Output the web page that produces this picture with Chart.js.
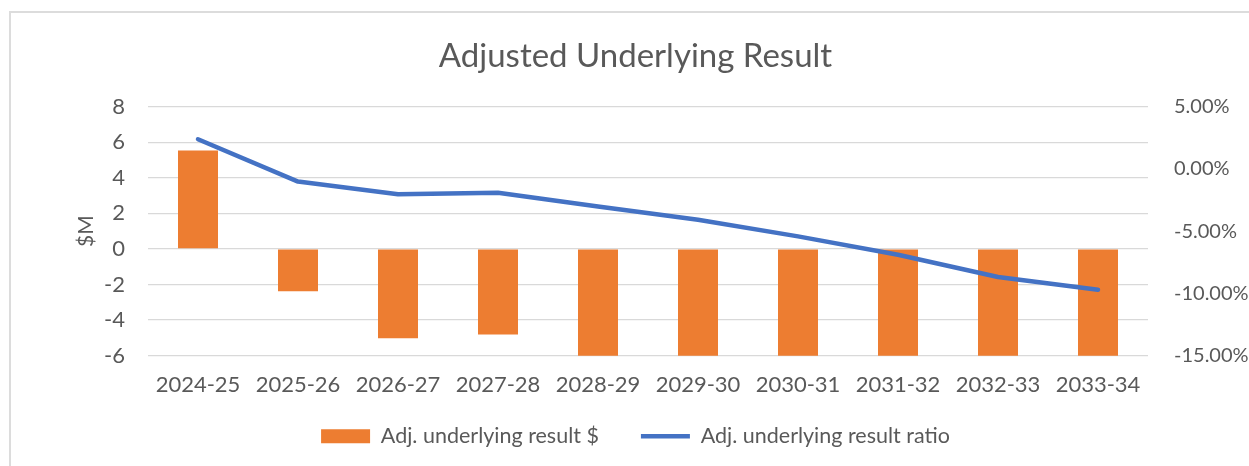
<!DOCTYPE html>
<html>
<head>
<meta charset="utf-8">
<script src="https://cdn.jsdelivr.net/npm/chart.js@4.4.1/dist/chart.umd.min.js"></script>
<style>
  html, body { margin: 0; padding: 0; background: #ffffff; overflow: hidden; }
  #frame { position: absolute; left: 9px; top: 11px; width: 1400px; height: 600px; border-left: 2px solid #DCDCDC; border-top: 2px solid #DCDCDC; }
  #wrap { position: absolute; left: 0; top: 0; width: 1249px; height: 466px; }
</style>
</head>
<body>
<div id="frame"></div>
<div id="wrap"><canvas id="c"></canvas></div>
<script>
const categories = ['2024-25', '2025-26', '2026-27', '2027-28', '2028-29', '2029-30', '2030-31', '2031-32', '2032-33', '2033-34'];
const resultM = [5.53, -2.38, -5.02, -4.81, -6.3, -6.6, -6.9, -7.2, -7.6, -8.0];
const ratioPct = [2.38, -1.02, -2.03, -1.92, -3.02, -4.09, -5.42, -6.9, -8.68, -9.7];
const leftTicks = { min: -6, max: 8, step: 2 };
const rightTicks = { min: -15, max: 5, step: 5 };

const textColor = '#595959';
const gridColor = '#D9D9D9';
Chart.defaults.font.family = 'Lato, "Open Sans", sans-serif';
Chart.defaults.color = textColor;

// let the category labels extend below the (narrow) x-axis box without being clipped
const labelRoom = {
  id: 'labelRoom',
  afterLayout(chart) {
    const x = chart.scales.x;
    x.bottom = x.top + 60;
  }
};

new Chart(document.getElementById('c'), {
  plugins: [labelRoom],
  data: {
    labels: categories,
    datasets: [
      {
        type: 'bar',
        label: 'Adj. underlying result $',
        data: resultM,
        backgroundColor: '#ED7D31',
        borderWidth: 0,
        barPercentage: 0.4,
        categoryPercentage: 1.0,
        yAxisID: 'y',
        order: 2,
        pointStyle: 'rect'
      },
      {
        type: 'line',
        label: 'Adj. underlying result ratio',
        data: ratioPct,
        borderColor: '#4472C4',
        backgroundColor: '#4472C4',
        borderWidth: 4.5,
        borderCapStyle: 'round',
        borderJoinStyle: 'round',
        pointRadius: 0,
        pointHoverRadius: 0,
        tension: 0,
        yAxisID: 'y1',
        order: 1,
        pointStyle: 'line'
      }
    ]
  },
  options: {
    responsive: true,
    maintainAspectRatio: false,
    animation: false,
    layout: { padding: { left: 22, right: 0, top: 0, bottom: 9 } },
    plugins: {
      tooltip: { enabled: false },
      title: {
        display: true,
        text: 'Adjusted Underlying Result',
        color: textColor,
        font: { size: 33, weight: 'normal' },
        padding: { top: 37, bottom: 30 }
      },
      legend: {
        position: 'bottom',
        labels: {
          usePointStyle: true,
          pointStyleWidth: 49,
          boxHeight: 14,
          padding: 42,
          color: textColor,
          font: { size: 21.5 },
          sort: (a, b) => a.datasetIndex - b.datasetIndex
        }
      }
    },
    scales: {
      x: {
        grid: { display: false, drawTicks: false },
        border: { display: false },
        ticks: { color: textColor, font: { size: 22 }, padding: 16, maxRotation: 0 },
        afterFit: (s) => { s.height = 27.8; }
      },
      y: {
        position: 'left',
        min: leftTicks.min,
        max: leftTicks.max,
        ticks: { stepSize: leftTicks.step, color: textColor, font: { size: 22 }, padding: 23 },
        grid: { color: gridColor, lineWidth: 1.3, drawTicks: false },
        border: { display: false },
        title: { display: true, text: '$M', color: textColor, font: { size: 21 }, padding: { top: 52, bottom: 0 } },
        afterFit: (s) => { s.width = 126; }
      },
      y1: {
        position: 'right',
        min: rightTicks.min,
        max: rightTicks.max,
        ticks: { stepSize: rightTicks.step, color: textColor, font: { size: 20 }, padding: 26,
          callback: (v) => Number(v).toFixed(2) + '%' },
        grid: { display: false, drawTicks: false },
        border: { display: false },
        afterFit: (s) => { s.width = 101; }
      }
    }
  }
});
</script>
</body>
</html>
